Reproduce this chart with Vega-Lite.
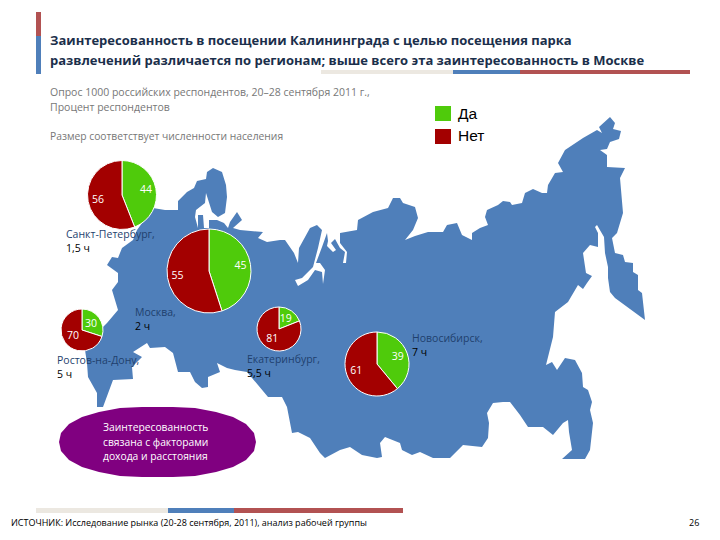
{
  "$schema": "https://vega.github.io/schema/vega-lite/v6.json",
  "width": 720,
  "height": 540,
  "autosize": {"type": "fit", "contains": "padding"},
  "padding": 0,
  "background": "#ffffff",
  "config": {
    "view": {"stroke": null},
    "axis": {"disable": true},
    "legend": {"disable": true},
    "text": {"font": "Open Sans", "align": "left", "baseline": "middle"}
  },
  "datasets": {
    "survey": [
      {"city": "Санкт-Петербург", "map_x": 122, "map_y": 195, "population": 7.93, "answer": "Да", "rank": 1, "share": 44},
      {"city": "Санкт-Петербург", "map_x": 122, "map_y": 195, "population": 7.93, "answer": "Нет", "rank": 2, "share": 56},
      {"city": "Москва", "map_x": 209, "map_y": 271, "population": 11.76, "answer": "Да", "rank": 1, "share": 45},
      {"city": "Москва", "map_x": 209, "map_y": 271, "population": 11.76, "answer": "Нет", "rank": 2, "share": 55},
      {"city": "Ростов-на-Дону", "map_x": 82, "map_y": 330, "population": 2.94, "answer": "Да", "rank": 1, "share": 30},
      {"city": "Ростов-на-Дону", "map_x": 82, "map_y": 330, "population": 2.94, "answer": "Нет", "rank": 2, "share": 70},
      {"city": "Екатеринбург", "map_x": 279, "map_y": 329, "population": 3.23, "answer": "Да", "rank": 1, "share": 19},
      {"city": "Екатеринбург", "map_x": 279, "map_y": 329, "population": 3.23, "answer": "Нет", "rank": 2, "share": 81},
      {"city": "Новосибирск", "map_x": 377, "map_y": 364, "population": 6.83, "answer": "Да", "rank": 1, "share": 39},
      {"city": "Новосибирск", "map_x": 377, "map_y": 364, "population": 6.83, "answer": "Нет", "rank": 2, "share": 61}
    ]
  },
  "layer": [
    {
      "data": {"values": [{"type": "Feature", "properties": {"name": "Россия"}, "geometry": {"type": "Polygon", "coordinates": [[
        [153,208],[165,210],[178,210],[178,201],[187,192],[194,188],[197,181],[206,179],[207,172],[213,168],[222,172],[226,185],[227,197],[225,213],[218,217],[212,212],[206,193],[205,203],[196,210],[195,217],[198,228],[198,215],[203,215],[204,228],[209,228],[209,220],[217,220],[224,223],[228,228],[230,222],[237,212],[242,220],[233,228],[240,230],[263,232],[258,238],[267,242],[280,240],[285,240],[294,253],[298,263],[299,248],[310,228],[317,225],[322,230],[318,248],[313,267],[302,278],[295,280],[298,286],[308,280],[315,270],[322,272],[323,284],[325,270],[320,263],[316,263],[322,247],[327,233],[328,241],[327,246],[333,252],[336,250],[331,243],[335,239],[340,248],[345,252],[343,263],[346,263],[347,252],[340,243],[340,233],[357,230],[358,220],[373,212],[388,208],[393,198],[400,198],[403,203],[415,207],[418,218],[413,230],[405,240],[415,236],[428,232],[443,232],[447,225],[457,223],[462,235],[472,240],[472,233],[480,228],[488,225],[485,217],[487,210],[498,205],[503,201],[510,202],[512,205],[522,203],[525,193],[533,189],[542,193],[547,193],[548,185],[555,173],[563,172],[558,163],[565,150],[583,138],[597,130],[602,133],[599,127],[610,117],[615,123],[613,129],[621,131],[619,139],[610,142],[607,149],[600,150],[607,155],[607,167],[625,168],[620,178],[623,213],[617,233],[612,238],[615,253],[623,255],[625,262],[633,263],[633,272],[638,275],[638,290],[642,293],[645,320],[615,298],[610,292],[608,278],[608,267],[605,253],[604,237],[597,225],[595,227],[598,233],[598,247],[590,245],[583,253],[586,273],[592,276],[587,283],[583,289],[578,285],[568,302],[555,312],[553,337],[546,365],[552,362],[557,370],[565,358],[575,360],[582,373],[583,387],[588,390],[592,402],[590,410],[593,423],[590,450],[585,459],[562,459],[572,450],[569,432],[568,420],[563,423],[553,435],[543,427],[528,427],[520,415],[510,402],[503,402],[493,403],[487,413],[489,423],[488,438],[482,447],[463,445],[450,458],[433,458],[420,452],[412,455],[402,450],[400,443],[385,437],[380,443],[382,457],[377,458],[362,455],[350,447],[340,450],[325,458],[320,453],[310,438],[298,432],[292,433],[287,407],[282,397],[268,397],[258,385],[247,372],[235,370],[227,368],[217,363],[220,372],[208,377],[208,387],[202,388],[195,382],[190,372],[178,372],[173,353],[165,347],[150,348],[147,343],[133,352],[142,357],[132,367],[133,379],[113,380],[103,407],[97,407],[97,393],[88,377],[87,363],[85,350],[95,340],[103,327],[107,323],[118,310],[115,300],[112,290],[118,282],[118,273],[107,265],[112,257],[118,258],[122,248],[133,240],[137,230],[153,208]
      ]]}}]},
      "mark": {"type": "geoshape", "fill": "#4f7fba", "stroke": null},
      "projection": {"type": "identity", "scale": 1, "translate": [0, 0]}
    },
    {
      "data": {"values": [{"type": "Feature", "properties": {"name": "Заинтересованность"}, "geometry": {"type": "Polygon", "coordinates": [[
        [59,442],[61,433],[69,424],[82,417],[99,412],[120,408],[142,407],[158,407],[173,407],[195,408],[216,412],[233,417],[246,424],[254,433],[256,442],[254,451],[246,460],[233,467],[216,472],[195,476],[173,477],[158,477],[142,477],[120,476],[99,472],[82,467],[69,460],[61,451],[59,442]
      ]]}}]},
      "mark": {"type": "geoshape", "fill": "#800080", "stroke": null},
      "projection": {"type": "identity", "scale": 1, "translate": [0, 0]}
    },
    {
      "data": {"name": "survey"},
      "mark": {"type": "arc", "stroke": "#ffffff", "strokeWidth": 1},
      "encoding": {
        "x": {"field": "map_x", "type": "quantitative", "scale": {"domain": [0, 720]}},
        "y": {"field": "map_y", "type": "quantitative", "scale": {"domain": [540, 0]}},
        "theta": {"field": "share", "type": "quantitative", "stack": true, "scale": {"domain": [0, 100]}},
        "radius": {"field": "population", "type": "quantitative", "stack": false, "scale": {"type": "sqrt", "domain": [0, 11.76], "range": [0, 42]}},
        "color": {"field": "answer", "type": "nominal", "scale": {"domain": ["Да", "Нет"], "range": ["#4fcb0b", "#a30000"]}},
        "order": {"field": "rank"}
      }
    },
    {
      "data": {"name": "survey"},
      "mark": {"type": "text", "radiusOffset": -10, "align": "center", "color": "#ffffff", "fontSize": 10.5},
      "encoding": {
        "x": {"field": "map_x", "type": "quantitative", "scale": {"domain": [0, 720]}},
        "y": {"field": "map_y", "type": "quantitative", "scale": {"domain": [540, 0]}},
        "theta": {"field": "share", "type": "quantitative", "stack": true, "scale": {"domain": [0, 100]}},
        "radius": {"field": "population", "type": "quantitative", "stack": false, "scale": {"type": "sqrt", "domain": [0, 11.76], "range": [0, 42]}},
        "text": {"field": "share", "type": "quantitative"},
        "order": {"field": "rank"}
      }
    },
    {
      "data": {"values": [{"label": "Заинтересованность в посещении Калининграда с целью посещения парка\nразвлечений различается по регионам; выше всего эта заинтересованность в Москве"}]},
      "mark": {"type": "text", "lineBreak": "\n", "lineHeight": 20, "fontSize": 13, "fontWeight": "bold", "color": "#1b2f4b"},
      "encoding": {"text": {"field": "label"}, "x": {"datum": 50, "scale": {"domain": [0, 720]}}, "y": {"datum": 41, "scale": {"domain": [540, 0]}}}
    },
    {
      "data": {"values": [{"label": "Опрос 1000 российских респондентов, 20–28 сентября 2011 г.,\nПроцент респондентов"}]},
      "mark": {"type": "text", "lineBreak": "\n", "lineHeight": 15, "fontSize": 10.5, "color": "#777777"},
      "encoding": {"text": {"field": "label"}, "x": {"datum": 50, "scale": {"domain": [0, 720]}}, "y": {"datum": 93, "scale": {"domain": [540, 0]}}}
    },
    {
      "data": {"values": [{"label": "Размер соответствует численности населения"}]},
      "mark": {"type": "text", "fontSize": 10.3, "color": "#777777"},
      "encoding": {"text": {"field": "label"}, "x": {"datum": 50, "scale": {"domain": [0, 720]}}, "y": {"datum": 137, "scale": {"domain": [540, 0]}}}
    },
    {
      "data": {"values": [{"label": "Да"}]},
      "mark": {"type": "text", "font": "Liberation Sans", "fontSize": 15.5, "color": "#000000"},
      "encoding": {"text": {"field": "label"}, "x": {"datum": 458, "scale": {"domain": [0, 720]}}, "y": {"datum": 114, "scale": {"domain": [540, 0]}}}
    },
    {
      "data": {"values": [{"label": "Нет"}]},
      "mark": {"type": "text", "font": "Liberation Sans", "fontSize": 15.5, "color": "#000000"},
      "encoding": {"text": {"field": "label"}, "x": {"datum": 458, "scale": {"domain": [0, 720]}}, "y": {"datum": 136, "scale": {"domain": [540, 0]}}}
    },
    {
      "data": {"values": [{"key": "Да"}]},
      "mark": {"type": "rect", "fill": "#4fcb0b"},
      "encoding": {"x": {"datum": 435, "scale": {"domain": [0, 720]}}, "x2": {"datum": 451}, "y": {"datum": 106, "scale": {"domain": [540, 0]}}, "y2": {"datum": 121}}
    },
    {
      "data": {"values": [{"key": "Нет"}]},
      "mark": {"type": "rect", "fill": "#a30000"},
      "encoding": {"x": {"datum": 435, "scale": {"domain": [0, 720]}}, "x2": {"datum": 451}, "y": {"datum": 129, "scale": {"domain": [540, 0]}}, "y2": {"datum": 144}}
    },
    {
      "data": {"values": [
        {"x0": 36, "x1": 41, "y0": 12, "y1": 36, "part": "a"},
        {"x0": 36, "x1": 41, "y0": 36, "y1": 74, "part": "b"},
        {"x0": 321, "x1": 453, "y0": 70, "y1": 74, "part": "c"},
        {"x0": 453, "x1": 520, "y0": 70, "y1": 74, "part": "b"},
        {"x0": 520, "x1": 690, "y0": 70, "y1": 74, "part": "a"},
        {"x0": 36, "x1": 168, "y0": 508, "y1": 513, "part": "c"},
        {"x0": 168, "x1": 234, "y0": 508, "y1": 513, "part": "b"},
        {"x0": 234, "x1": 403, "y0": 508, "y1": 513, "part": "a"}
      ]},
      "mark": {"type": "rect"},
      "encoding": {
        "x": {"field": "x0", "type": "quantitative", "scale": {"domain": [0, 720]}},
        "x2": {"field": "x1"},
        "y": {"field": "y0", "type": "quantitative", "scale": {"domain": [540, 0]}},
        "y2": {"field": "y1"},
        "fill": {"field": "part", "type": "nominal", "scale": {"domain": ["a", "b", "c"], "range": ["#b25252", "#4f7fba", "#ece8e1"]}}
      }
    },
    {
      "data": {"values": [{"label": "Санкт-Петербург,"}]},
      "mark": {"type": "text", "fontSize": 10.5, "color": "#1f3f6e"},
      "encoding": {"text": {"field": "label"}, "x": {"datum": 66, "scale": {"domain": [0, 720]}}, "y": {"datum": 235, "scale": {"domain": [540, 0]}}}
    },
    {
      "data": {"values": [{"label": "1,5 ч"}]},
      "mark": {"type": "text", "fontSize": 10.5, "color": "#000000"},
      "encoding": {"text": {"field": "label"}, "x": {"datum": 66, "scale": {"domain": [0, 720]}}, "y": {"datum": 249, "scale": {"domain": [540, 0]}}}
    },
    {
      "data": {"values": [{"label": "Москва,"}]},
      "mark": {"type": "text", "fontSize": 10.5, "color": "#1f3f6e"},
      "encoding": {"text": {"field": "label"}, "x": {"datum": 135, "scale": {"domain": [0, 720]}}, "y": {"datum": 313, "scale": {"domain": [540, 0]}}}
    },
    {
      "data": {"values": [{"label": "2 ч"}]},
      "mark": {"type": "text", "fontSize": 10.5, "color": "#000000"},
      "encoding": {"text": {"field": "label"}, "x": {"datum": 135, "scale": {"domain": [0, 720]}}, "y": {"datum": 327, "scale": {"domain": [540, 0]}}}
    },
    {
      "data": {"values": [{"label": "Ростов-на-Дону,"}]},
      "mark": {"type": "text", "fontSize": 10.5, "color": "#1f3f6e"},
      "encoding": {"text": {"field": "label"}, "x": {"datum": 57, "scale": {"domain": [0, 720]}}, "y": {"datum": 361, "scale": {"domain": [540, 0]}}}
    },
    {
      "data": {"values": [{"label": "5 ч"}]},
      "mark": {"type": "text", "fontSize": 10.5, "color": "#000000"},
      "encoding": {"text": {"field": "label"}, "x": {"datum": 57, "scale": {"domain": [0, 720]}}, "y": {"datum": 375, "scale": {"domain": [540, 0]}}}
    },
    {
      "data": {"values": [{"label": "Екатеринбург,"}]},
      "mark": {"type": "text", "fontSize": 10.5, "color": "#1f3f6e"},
      "encoding": {"text": {"field": "label"}, "x": {"datum": 247, "scale": {"domain": [0, 720]}}, "y": {"datum": 360, "scale": {"domain": [540, 0]}}}
    },
    {
      "data": {"values": [{"label": "5,5 ч"}]},
      "mark": {"type": "text", "fontSize": 10.5, "color": "#000000"},
      "encoding": {"text": {"field": "label"}, "x": {"datum": 247, "scale": {"domain": [0, 720]}}, "y": {"datum": 374, "scale": {"domain": [540, 0]}}}
    },
    {
      "data": {"values": [{"label": "Новосибирск,"}]},
      "mark": {"type": "text", "fontSize": 10.5, "color": "#1f3f6e"},
      "encoding": {"text": {"field": "label"}, "x": {"datum": 412, "scale": {"domain": [0, 720]}}, "y": {"datum": 339, "scale": {"domain": [540, 0]}}}
    },
    {
      "data": {"values": [{"label": "7 ч"}]},
      "mark": {"type": "text", "fontSize": 10.5, "color": "#000000"},
      "encoding": {"text": {"field": "label"}, "x": {"datum": 412, "scale": {"domain": [0, 720]}}, "y": {"datum": 353, "scale": {"domain": [540, 0]}}}
    },
    {
      "data": {"values": [{"label": "Заинтересованность\nсвязана с факторами\nдохода и расстояния"}]},
      "mark": {"type": "text", "lineBreak": "\n", "lineHeight": 14.5, "fontSize": 10.3, "color": "#ffffff"},
      "encoding": {"text": {"field": "label"}, "x": {"datum": 103, "scale": {"domain": [0, 720]}}, "y": {"datum": 428, "scale": {"domain": [540, 0]}}}
    },
    {
      "data": {"values": [{"label": "ИСТОЧНИК: Исследование рынка (20-28 сентября, 2011), анализ рабочей группы"}]},
      "mark": {"type": "text", "fontSize": 9, "color": "#000000"},
      "encoding": {"text": {"field": "label"}, "x": {"datum": 11, "scale": {"domain": [0, 720]}}, "y": {"datum": 523, "scale": {"domain": [540, 0]}}}
    },
    {
      "data": {"values": [{"label": "26"}]},
      "mark": {"type": "text", "fontSize": 9, "color": "#000000"},
      "encoding": {"text": {"field": "label"}, "x": {"datum": 689, "scale": {"domain": [0, 720]}}, "y": {"datum": 523, "scale": {"domain": [540, 0]}}}
    }
  ]
}
